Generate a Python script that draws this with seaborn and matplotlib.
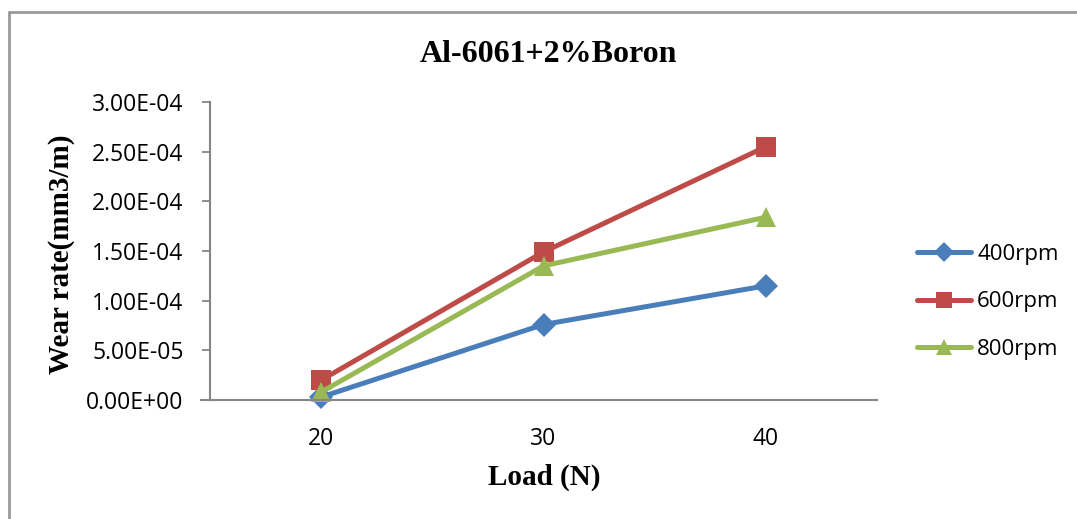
import matplotlib
matplotlib.use("Agg")
import matplotlib.pyplot as plt
import matplotlib.lines as mlines
import seaborn as sns
import pandas as pd

# Wear-rate measurements for Al-6061 + 2% Boron
loads = [20, 30, 40]
rate_400rpm = [3.0e-6, 7.6e-5, 1.15e-4]
rate_600rpm = [2.0e-5, 1.49e-4, 2.55e-4]
rate_800rpm = [8.0e-6, 1.35e-4, 1.84e-4]
series_names = ["400rpm", "600rpm", "800rpm"]
y_ticks = [0, 5e-5, 1e-4, 1.5e-4, 2e-4, 2.5e-4, 3e-4]
y_tick_labels = ["0.00E+00", "5.00E-05", "1.00E-04", "1.50E-04",
                 "2.00E-04", "2.50E-04", "3.00E-04"]

df = pd.DataFrame({
    "Load": loads * 3,
    "Rate": rate_400rpm + rate_600rpm + rate_800rpm,
    "Speed": [n for n in series_names for _ in loads],
})

colors = {"400rpm": "#4A7EBB", "600rpm": "#BE4B48", "800rpm": "#98B954"}
markers = {"400rpm": "D", "600rpm": "s", "800rpm": "^"}
msizes = {"400rpm": 12.5, "600rpm": 14, "800rpm": 14.5}

sns.set_style("white")
plt.rcParams.update({"text.color": "black", "axes.labelcolor": "black",
                     "xtick.color": "black", "ytick.color": "black"})

W, H = 1077, 519
fig = plt.figure(figsize=(W / 100, H / 100), dpi=100)
ax = fig.add_axes([210 / W, 1 - 400 / H, 667 / W, 298 / H])

for name in series_names:
    sub = df[df["Speed"] == name]
    sns.lineplot(data=sub, x="Load", y="Rate", ax=ax, color=colors[name],
                 marker=markers[name], markersize=msizes[name],
                 markeredgewidth=0, linewidth=3.6, label=name, legend=False,
                 clip_on=False)

ax.set_xlim(15, 45)
ax.set_ylim(0, 3e-4)
ax.set_xticks(loads)
ax.set_xticklabels([str(v) for v in loads])
ax.set_yticks(y_ticks)
ax.set_yticklabels(y_tick_labels)

for lab in ax.get_xticklabels() + ax.get_yticklabels():
    lab.set_fontfamily("Open Sans")
    lab.set_fontsize(16.5)
    lab.set_color("black")

for side in ["top", "right"]:
    ax.spines[side].set_visible(False)
for side in ["left", "bottom"]:
    ax.spines[side].set_color("#868686")
    ax.spines[side].set_linewidth(1.5)
ax.spines["bottom"].set_bounds(15 - 9 / 667 * 30, 45)
ax.spines["bottom"].set_clip_on(False)

ax.tick_params(axis="y", which="major", direction="out", length=6,
               width=1.3, color="#868686", pad=13, left=True)
ax.tick_params(axis="x", length=0, pad=19.5)

ax.set_xlabel("Load (N)", fontfamily="Liberation Serif", fontweight="bold",
              fontsize=21)
ax.xaxis.label.set_va("center")
ax.xaxis.set_label_coords((544 - 210) / 667, (400 - 477) / 298)

ax.set_ylabel("Wear rate(mm3/m)", fontfamily="Liberation Serif",
              fontweight="bold", fontsize=21)
ax.yaxis.label.set_va("center")
ax.yaxis.set_label_coords((62 - 210) / 667, 0.49)

fig.text(548 / W, 1 - 54 / H, "Al-6061+2%Boron", fontfamily="Liberation Serif",
         fontweight="bold", fontsize=23, ha="center", va="center")

handles = [mlines.Line2D([], [], color=colors[n], marker=markers[n],
                         markersize=msizes[n] * 0.8, markeredgewidth=0,
                         linewidth=3.6) for n in series_names]
fig.legend(handles, series_names, loc="center left",
           bbox_to_anchor=(917 / W, 1 - 302 / H), frameon=False,
           prop={"family": "Open Sans", "size": 16}, borderpad=0,
           borderaxespad=0, handlelength=2.45, handletextpad=0.25,
           labelspacing=1.18)

# Outer chart border (top and left edges)
fig.add_artist(mlines.Line2D([9 / W, 1.0], [1 - 12 / H, 1 - 12 / H],
                             transform=fig.transFigure, color="#9A9A9A",
                             linewidth=2))
fig.add_artist(mlines.Line2D([9 / W, 9 / W], [0, 1 - 12 / H],
                             transform=fig.transFigure, color="#9A9A9A",
                             linewidth=2))

fig.savefig("out.png", dpi=100, facecolor="white")
